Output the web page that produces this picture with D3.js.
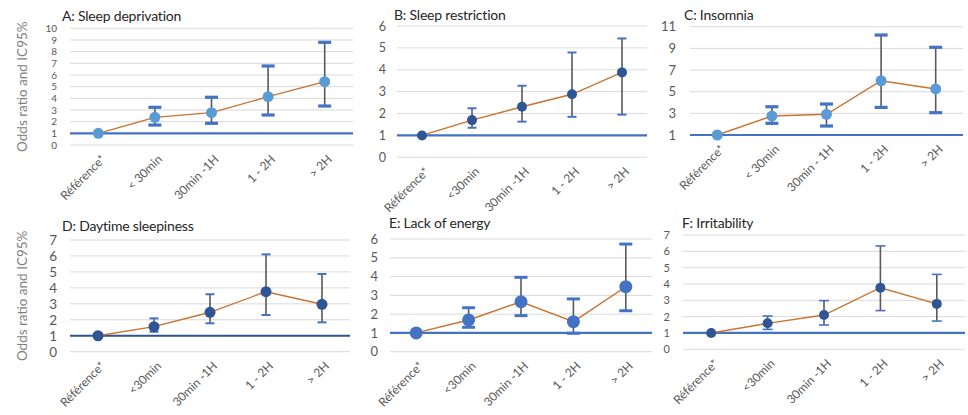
<!DOCTYPE html>
<html><head><meta charset="utf-8">
<script src="https://cdn.jsdelivr.net/npm/d3@7"></script>
<style>
html,body{margin:0;padding:0;background:#fff;}
svg text{font-family:Lato,"Open Sans",sans-serif;}
</style></head>
<body><svg id="c" width="968" height="415"></svg>
<script>
// ---- data ----
const catsA = ["Référence*", "< 30min", "30min -1H", "1 - 2H", "> 2H"];
const catsB = ["Référence*", "<30min", "30min -1H", "1 - 2H", "> 2H"];
const catsC = ["Référence*", "< 30min", "30min - 1H", "1 - 2H", "> 2H"];
const catsDEF = ["Référence*", "<30min", "30min -1H", "1 - 2H", "> 2H"];

const orA = [1, 2.37, 2.77, 4.14, 5.43];
const loA = [null, 1.71, 1.86, 2.57, 3.34];
const hiA = [null, 3.23, 4.09, 6.77, 8.8];

const orB = [1, 1.70, 2.31, 2.88, 3.88];
const loB = [null, 1.35, 1.63, 1.85, 1.95];
const hiB = [null, 2.24, 3.27, 4.79, 5.43];

const orC = [1, 2.75, 2.91, 6.01, 5.25];
const loC = [null, 2.08, 1.83, 3.55, 3.06];
const hiC = [null, 3.61, 3.86, 10.23, 9.1];

const orD = [1, 1.57, 2.47, 3.76, 2.97];
const loD = [null, 1.25, 1.78, 2.3, 1.84];
const hiD = [null, 2.09, 3.6, 6.1, 4.87];

const orE = [1, 1.69, 2.66, 1.6, 3.46];
const loE = [null, 1.3, 1.92, 0.98, 2.18];
const hiE = [null, 2.34, 3.96, 2.81, 5.73];

const orF = [1, 1.59, 2.1, 3.77, 2.78];
const loF = [null, 1.22, 1.49, 2.37, 1.73];
const hiF = [null, 2.04, 2.98, 6.33, 4.59];

const titles = ["A: Sleep deprivation", "B: Sleep restriction", "C: Insomnia",
                "D: Daytime sleepiness", "E: Lack of energy", "F: Irritability"];
const ticksA = [0,1,2,3,4,5,6,7,8,9,10];
const ticksB = [0,1,2,3,4,5,6];
const ticksC = [1,3,5,7,9,11];
const ticksD = [0,1,2,3,4,5,6,7];
const ticksE = [0,1,2,3,4,5,6];
const ticksF = [0,1,2,3,4,5,6,7];
const yTitle = "Odds ratio and IC95%";

// ---- layout / style ----
const panels = [
 {cats:catsA, or:orA, lo:loA, hi:hiA, ticks:ticksA, dom:[0,10], x0:70, x1:353, yT:28.3, yB:145, tx:62, ty:21, tickFs:10, tickX:57,
  mk:"#5B9BD5", r:5.5, capW:13, capS:3.2, refC:"#4472C4", ytitle:true},
 {cats:catsB, or:orB, lo:loB, hi:hiB, ticks:ticksB, dom:[0,6], x0:397, x1:647, yT:26, yB:157.3, tx:394, ty:20, tickFs:12.5, tickX:386,
  mk:"#2F5597", r:5, capW:9, capS:2, refC:"#4472C4"},
 {cats:catsC, or:orC, lo:loC, hi:hiC, ticks:ticksC, dom:[1,11], x0:690, x1:963, yT:26.7, yB:135, tx:684, ty:20, tickFs:13, tickX:676,
  mk:"#5B9BD5", r:5.5, capW:13, capS:3.2, refC:"#4472C4"},
 {cats:catsDEF, or:orD, lo:loD, hi:hiD, ticks:ticksD, dom:[0,7], x0:70, x1:350, yT:240, yB:351.7, tx:62, ty:231, tickFs:13.5, tickX:57,
  mk:"#2F5597", r:5.5, capW:9, capS:2, refC:"#2F5597", ytitle:true},
 {cats:catsDEF, or:orE, lo:loE, hi:hiE, ticks:ticksE, dom:[0,6], x0:390, x1:652, yT:239, yB:351.7, tx:389, ty:228, tickFs:13, tickX:378,
  mk:"#4472C4", r:6.5, capW:13, capS:3, refC:"#4472C4"},
 {cats:catsDEF, or:orF, lo:loF, hi:hiF, ticks:ticksF, dom:[0,7], x0:683, x1:965, yT:235, yB:349.3, tx:682, ty:228, tickFs:11, tickX:670,
  mk:"#2F5597", r:5, capW:10, capS:1.6, refC:"#4472C4"}
];

const svg = d3.select("#c");
panels.forEach((p, i) => {
  const g = svg.append("g");
  const x = d3.scaleBand().domain(p.cats).range([p.x0, p.x1]).padding(0);
  const y = d3.scaleLinear().domain(p.dom).range([p.yB, p.yT]);
  const cx = c => x(c) + x.bandwidth()/2;

  // gridlines
  g.selectAll(".grid").data(p.ticks).enter().append("line")
    .attr("x1", p.x0).attr("x2", p.x1)
    .attr("y1", d => y(d)).attr("y2", d => y(d))
    .attr("stroke", "#d9d9d9").attr("stroke-width", 1);

  // y tick labels
  const yAxis = d3.axisLeft(y).tickValues(p.ticks).tickFormat(d3.format("d")).tickSize(0).tickPadding(0);
  const ya = g.append("g").attr("transform", `translate(${p.tickX},0)`).call(yAxis);
  ya.select(".domain").remove();
  ya.selectAll("text").attr("fill", "#595959").style("font-size", p.tickFs + "px")
    .style("font-family", "Lato, 'Open Sans', sans-serif");

  // reference line at OR = 1
  g.append("line").attr("x1", p.x0).attr("x2", p.x1)
    .attr("y1", y(1)).attr("y2", y(1))
    .attr("stroke", p.refC).attr("stroke-width", 2.2);

  // x labels
  g.selectAll(".xl").data(p.cats).enter().append("text")
    .attr("transform", d => `translate(${cx(d)+5},${p.yB + 12}) rotate(-45)`)
    .attr("text-anchor", "end").attr("dy", "0.35em")
    .attr("fill", "#595959").style("font-size", "12px")
    .text(d => d);

  const pts = p.cats.map((c, k) => ({c, or:p.or[k], lo:p.lo[k], hi:p.hi[k]}));

  // error bars
  const eb = pts.filter(d => d.lo != null);
  g.selectAll(".eb").data(eb).enter().append("line")
    .attr("x1", d => cx(d.c)).attr("x2", d => cx(d.c))
    .attr("y1", d => y(d.lo)).attr("y2", d => y(d.hi))
    .attr("stroke", "#595959").attr("stroke-width", 1.6);
  ["lo","hi"].forEach(k => {
    g.selectAll(".cap"+k).data(eb).enter().append("line")
      .attr("x1", d => cx(d.c) - p.capW/2).attr("x2", d => cx(d.c) + p.capW/2)
      .attr("y1", d => y(d[k])).attr("y2", d => y(d[k]))
      .attr("stroke", "#4472C4").attr("stroke-width", p.capS);
  });

  // OR line
  g.append("path").datum(pts)
    .attr("d", d3.line().x(d => cx(d.c)).y(d => y(d.or)))
    .attr("fill", "none").attr("stroke", "#C8732F").attr("stroke-width", 1.4);

  // markers
  g.selectAll(".mk").data(pts).enter().append("circle")
    .attr("cx", d => cx(d.c)).attr("cy", d => y(d.or)).attr("r", p.r)
    .attr("fill", p.mk);

  // title
  g.append("text").attr("x", p.tx).attr("y", p.ty)
    .attr("fill", "#262626").style("font-size", "14px").style("letter-spacing", "-0.2px").text(titles[i]);

  if (p.ytitle) {
    g.append("text")
      .attr("transform", `translate(27,${(p.yT + p.yB)/2}) rotate(-90)`)
      .attr("text-anchor", "middle")
      .attr("fill", "#7f7f7f").style("font-size", "13.5px").text(yTitle);
  }
});
</script></body></html>
